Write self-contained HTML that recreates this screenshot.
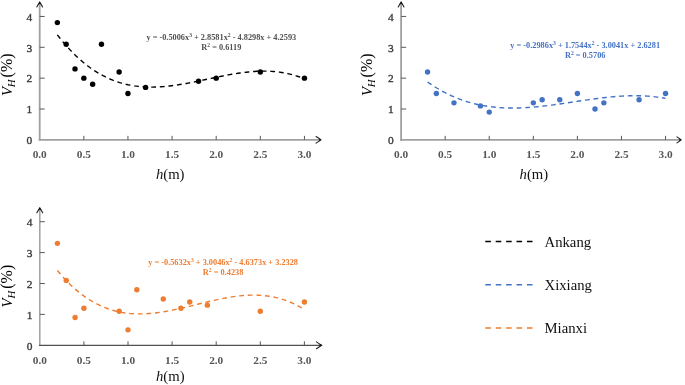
<!DOCTYPE html>
<html><head><meta charset="utf-8"><style>
html,body{margin:0;padding:0;background:#fff;}
body{width:685px;height:385px;overflow:hidden;}
svg{display:block;filter:blur(0.35px);}
text{font-family:"Liberation Serif",serif;}
.tk{font-size:11.3px;font-weight:bold;fill:#555;}
.tky{font-size:11.4px;fill:#3a3a3a;stroke:#3a3a3a;stroke-width:0.35px;}
.eq{font-size:8.3px;font-weight:bold;}
.sup{font-size:5.6px;}
.al{font-size:15px;fill:#111;}
.lg{font-size:15px;fill:#111;}
</style></head><body>
<svg width="685" height="385" viewBox="0 0 685 385">
<line x1="39.70" y1="2.50" x2="39.70" y2="140.75" stroke="#a0a0a0" stroke-width="1.8"/>
<line x1="38.80" y1="139.85" x2="320.95" y2="139.85" stroke="#a0a0a0" stroke-width="1.8"/>
<path d="M36.80 7.00 Q38.50 3.90 39.70 2.10 Q40.90 3.90 42.60 7.00" fill="none" stroke="#222" stroke-width="1.1" stroke-linecap="round"/>
<path d="M39.70 1.80 L38.20 4.50 L39.70 3.70 L41.20 4.50 Z" fill="#111"/>
<path d="M316.05 136.55 Q319.15 138.55 320.95 139.85 Q319.15 141.15 316.05 143.15" fill="none" stroke="#222" stroke-width="1.1" stroke-linecap="round"/>
<path d="M321.25 139.85 L318.55 138.35 L319.35 139.85 L318.55 141.35 Z" fill="#111"/>
<text x="29.40" y="144.05" text-anchor="middle" class="tky">0</text>
<line x1="39.70" y1="109.00" x2="44.70" y2="109.00" stroke="#595959" stroke-width="1"/>
<text x="29.40" y="113.20" text-anchor="middle" class="tky">1</text>
<line x1="39.70" y1="78.15" x2="44.70" y2="78.15" stroke="#595959" stroke-width="1"/>
<text x="29.40" y="82.35" text-anchor="middle" class="tky">2</text>
<line x1="39.70" y1="47.30" x2="44.70" y2="47.30" stroke="#595959" stroke-width="1"/>
<text x="29.40" y="51.50" text-anchor="middle" class="tky">3</text>
<line x1="39.70" y1="16.45" x2="44.70" y2="16.45" stroke="#595959" stroke-width="1"/>
<text x="29.40" y="20.65" text-anchor="middle" class="tky">4</text>
<text x="39.70" y="157.95" text-anchor="middle" class="tk">0.0</text>
<line x1="83.83" y1="139.85" x2="83.83" y2="135.85" stroke="#595959" stroke-width="1"/>
<text x="83.83" y="157.95" text-anchor="middle" class="tk">0.5</text>
<line x1="127.95" y1="139.85" x2="127.95" y2="135.85" stroke="#595959" stroke-width="1"/>
<text x="127.95" y="157.95" text-anchor="middle" class="tk">1.0</text>
<line x1="172.07" y1="139.85" x2="172.07" y2="135.85" stroke="#595959" stroke-width="1"/>
<text x="172.07" y="157.95" text-anchor="middle" class="tk">1.5</text>
<line x1="216.20" y1="139.85" x2="216.20" y2="135.85" stroke="#595959" stroke-width="1"/>
<text x="216.20" y="157.95" text-anchor="middle" class="tk">2.0</text>
<line x1="260.32" y1="139.85" x2="260.32" y2="135.85" stroke="#595959" stroke-width="1"/>
<text x="260.32" y="157.95" text-anchor="middle" class="tk">2.5</text>
<line x1="304.45" y1="139.85" x2="304.45" y2="135.85" stroke="#595959" stroke-width="1"/>
<text x="304.45" y="157.95" text-anchor="middle" class="tk">3.0</text>
<path d="M57.35 34.85 L59.43 37.52 L61.50 40.11 L63.58 42.62 L65.66 45.04 L67.73 47.38 L69.81 49.64 L71.89 51.81 L73.96 53.91 L76.04 55.93 L78.11 57.88 L80.19 59.74 L82.27 61.54 L84.34 63.26 L86.42 64.91 L88.50 66.49 L90.57 68.00 L92.65 69.44 L94.73 70.82 L96.80 72.13 L98.88 73.37 L100.96 74.56 L103.03 75.68 L105.11 76.74 L107.19 77.74 L109.26 78.68 L111.34 79.56 L113.41 80.39 L115.49 81.16 L117.57 81.88 L119.64 82.55 L121.72 83.17 L123.80 83.73 L125.87 84.25 L127.95 84.72 L130.03 85.14 L132.10 85.52 L134.18 85.86 L136.26 86.15 L138.33 86.40 L140.41 86.61 L142.49 86.78 L144.56 86.92 L146.64 87.01 L148.71 87.07 L150.79 87.10 L152.87 87.09 L154.94 87.06 L157.02 86.99 L159.10 86.89 L161.17 86.76 L163.25 86.61 L165.33 86.43 L167.40 86.23 L169.48 86.00 L171.56 85.75 L173.63 85.48 L175.71 85.19 L177.79 84.88 L179.86 84.55 L181.94 84.21 L184.01 83.85 L186.09 83.48 L188.17 83.10 L190.24 82.71 L192.32 82.30 L194.40 81.89 L196.47 81.47 L198.55 81.04 L200.63 80.60 L202.70 80.17 L204.78 79.73 L206.86 79.28 L208.93 78.84 L211.01 78.40 L213.09 77.96 L215.16 77.52 L217.24 77.09 L219.31 76.67 L221.39 76.25 L223.47 75.83 L225.54 75.43 L227.62 75.04 L229.70 74.66 L231.77 74.29 L233.85 73.94 L235.93 73.60 L238.00 73.28 L240.08 72.97 L242.16 72.69 L244.23 72.42 L246.31 72.18 L248.39 71.96 L250.46 71.76 L252.54 71.58 L254.61 71.44 L256.69 71.32 L258.77 71.23 L260.84 71.16 L262.92 71.13 L265.00 71.13 L267.07 71.17 L269.15 71.24 L271.23 71.34 L273.30 71.49 L275.38 71.67 L277.46 71.89 L279.53 72.15 L281.61 72.45 L283.69 72.79 L285.76 73.18 L287.84 73.62 L289.91 74.10 L291.99 74.63 L294.07 75.20 L296.14 75.83 L298.22 76.51 L300.30 77.24 L302.37 78.03 L304.45 78.87" fill="none" stroke="#000000" stroke-width="1.4" stroke-dasharray="4.8 3.8"/>
<circle cx="57.35" cy="22.62" r="2.7" fill="#000000"/>
<circle cx="66.17" cy="44.21" r="2.7" fill="#000000"/>
<circle cx="75.00" cy="68.89" r="2.7" fill="#000000"/>
<circle cx="83.83" cy="78.15" r="2.7" fill="#000000"/>
<circle cx="92.65" cy="84.32" r="2.7" fill="#000000"/>
<circle cx="101.47" cy="44.21" r="2.7" fill="#000000"/>
<circle cx="119.12" cy="71.98" r="2.7" fill="#000000"/>
<circle cx="127.95" cy="93.57" r="2.7" fill="#000000"/>
<circle cx="145.60" cy="87.41" r="2.7" fill="#000000"/>
<circle cx="198.55" cy="81.23" r="2.7" fill="#000000"/>
<circle cx="216.20" cy="78.15" r="2.7" fill="#000000"/>
<circle cx="260.32" cy="71.98" r="2.7" fill="#000000"/>
<circle cx="304.45" cy="78.15" r="2.7" fill="#000000"/>
<text x="221.30" y="39.70" text-anchor="middle" class="eq" fill="#505050">y = -0.5006x<tspan class="sup" dy="-3.0">3</tspan><tspan dy="3.0"> + 2.8581x</tspan><tspan class="sup" dy="-3.0">2</tspan><tspan dy="3.0"> - 4.8298x + 4.2593</tspan></text>
<text x="221.30" y="49.90" text-anchor="middle" class="eq" fill="#505050">R<tspan class="sup" dy="-3.0">2</tspan><tspan dy="3.0"> = 0.6119</tspan></text>
<text transform="translate(11.50 96.10) rotate(-90) scale(0.97,0.97)" class="al" style="font-size:15.2px;fill:#000"><tspan font-style="italic">V</tspan><tspan font-style="italic" font-size="11.2" dy="3.3" dx="-0.1">H</tspan><tspan dy="-3.3" dx="2.0" font-size="16.5">(%)</tspan></text>
<text transform="translate(170.20 179.00) scale(0.95,1)" text-anchor="middle" class="al" style="font-size:15.5px"><tspan font-style="italic">h</tspan>(m)</text>
<line x1="401.10" y1="2.50" x2="401.10" y2="140.75" stroke="#a0a0a0" stroke-width="1.8"/>
<line x1="400.20" y1="139.85" x2="681.15" y2="139.85" stroke="#a0a0a0" stroke-width="1.8"/>
<path d="M398.20 7.00 Q399.90 3.90 401.10 2.10 Q402.30 3.90 404.00 7.00" fill="none" stroke="#222" stroke-width="1.1" stroke-linecap="round"/>
<path d="M401.10 1.80 L399.60 4.50 L401.10 3.70 L402.60 4.50 Z" fill="#111"/>
<path d="M676.95 136.85 Q679.35 138.55 681.15 139.85 Q679.35 141.15 676.95 142.85" fill="none" stroke="#222" stroke-width="1.1" stroke-linecap="round"/>
<path d="M681.45 139.85 L678.75 138.35 L679.55 139.85 L678.75 141.35 Z" fill="#111"/>
<text x="390.80" y="144.05" text-anchor="middle" class="tky">0</text>
<line x1="401.10" y1="109.00" x2="406.10" y2="109.00" stroke="#595959" stroke-width="1"/>
<text x="390.80" y="113.20" text-anchor="middle" class="tky">1</text>
<line x1="401.10" y1="78.15" x2="406.10" y2="78.15" stroke="#595959" stroke-width="1"/>
<text x="390.80" y="82.35" text-anchor="middle" class="tky">2</text>
<line x1="401.10" y1="47.30" x2="406.10" y2="47.30" stroke="#595959" stroke-width="1"/>
<text x="390.80" y="51.50" text-anchor="middle" class="tky">3</text>
<line x1="401.10" y1="16.45" x2="406.10" y2="16.45" stroke="#595959" stroke-width="1"/>
<text x="390.80" y="20.65" text-anchor="middle" class="tky">4</text>
<text x="401.10" y="157.95" text-anchor="middle" class="tk">0.0</text>
<line x1="445.18" y1="139.85" x2="445.18" y2="135.85" stroke="#595959" stroke-width="1"/>
<text x="445.18" y="157.95" text-anchor="middle" class="tk">0.5</text>
<line x1="489.25" y1="139.85" x2="489.25" y2="135.85" stroke="#595959" stroke-width="1"/>
<text x="489.25" y="157.95" text-anchor="middle" class="tk">1.0</text>
<line x1="533.33" y1="139.85" x2="533.33" y2="135.85" stroke="#595959" stroke-width="1"/>
<text x="533.33" y="157.95" text-anchor="middle" class="tk">1.5</text>
<line x1="577.40" y1="139.85" x2="577.40" y2="135.85" stroke="#595959" stroke-width="1"/>
<text x="577.40" y="157.95" text-anchor="middle" class="tk">2.0</text>
<line x1="621.48" y1="139.85" x2="621.48" y2="135.85" stroke="#595959" stroke-width="1"/>
<text x="621.48" y="157.95" text-anchor="middle" class="tk">2.5</text>
<line x1="665.55" y1="139.85" x2="665.55" y2="135.85" stroke="#595959" stroke-width="1"/>
<text x="665.55" y="157.95" text-anchor="middle" class="tk">3.0</text>
<path d="M427.55 81.95 L429.55 83.35 L431.55 84.70 L433.55 86.01 L435.55 87.27 L437.55 88.49 L439.55 89.66 L441.55 90.79 L443.55 91.88 L445.55 92.92 L447.55 93.93 L449.55 94.89 L451.55 95.81 L453.55 96.69 L455.55 97.54 L457.55 98.34 L459.55 99.11 L461.55 99.84 L463.55 100.54 L465.55 101.20 L467.55 101.82 L469.55 102.41 L471.55 102.97 L473.55 103.50 L475.55 103.99 L477.55 104.45 L479.55 104.88 L481.55 105.28 L483.55 105.64 L485.55 105.98 L487.55 106.30 L489.55 106.58 L491.55 106.83 L493.55 107.06 L495.55 107.27 L497.55 107.45 L499.55 107.60 L501.55 107.73 L503.55 107.84 L505.55 107.92 L507.55 107.98 L509.55 108.02 L511.55 108.04 L513.55 108.04 L515.55 108.02 L517.55 107.99 L519.55 107.93 L521.55 107.86 L523.55 107.77 L525.55 107.66 L527.55 107.54 L529.55 107.40 L531.55 107.25 L533.55 107.08 L535.55 106.90 L537.55 106.71 L539.55 106.51 L541.55 106.30 L543.55 106.07 L545.55 105.84 L547.55 105.60 L549.55 105.35 L551.55 105.09 L553.55 104.82 L555.55 104.55 L557.55 104.27 L559.55 103.99 L561.55 103.70 L563.55 103.41 L565.55 103.11 L567.55 102.81 L569.55 102.51 L571.55 102.21 L573.55 101.91 L575.55 101.61 L577.55 101.31 L579.55 101.00 L581.55 100.71 L583.55 100.41 L585.55 100.12 L587.55 99.83 L589.55 99.54 L591.55 99.26 L593.55 98.99 L595.55 98.72 L597.55 98.46 L599.55 98.21 L601.55 97.97 L603.55 97.73 L605.55 97.51 L607.55 97.29 L609.55 97.09 L611.55 96.89 L613.55 96.71 L615.55 96.54 L617.55 96.39 L619.55 96.25 L621.55 96.12 L623.55 96.01 L625.55 95.92 L627.55 95.84 L629.55 95.78 L631.55 95.74 L633.55 95.72 L635.55 95.71 L637.55 95.73 L639.55 95.77 L641.55 95.83 L643.55 95.90 L645.55 96.01 L647.55 96.13 L649.55 96.28 L651.55 96.46 L653.55 96.66 L655.55 96.88 L657.55 97.13 L659.55 97.41 L661.55 97.71 L663.55 98.05 L665.55 98.41" fill="none" stroke="#4472c4" stroke-width="1.4" stroke-dasharray="4.8 3.8"/>
<circle cx="427.55" cy="71.98" r="2.7" fill="#4472c4"/>
<circle cx="436.36" cy="93.57" r="2.7" fill="#4472c4"/>
<circle cx="453.99" cy="102.83" r="2.7" fill="#4472c4"/>
<circle cx="480.44" cy="105.91" r="2.7" fill="#4472c4"/>
<circle cx="489.25" cy="112.08" r="2.7" fill="#4472c4"/>
<circle cx="533.33" cy="102.83" r="2.7" fill="#4472c4"/>
<circle cx="542.14" cy="99.74" r="2.7" fill="#4472c4"/>
<circle cx="559.77" cy="99.74" r="2.7" fill="#4472c4"/>
<circle cx="577.40" cy="93.57" r="2.7" fill="#4472c4"/>
<circle cx="595.03" cy="109.00" r="2.7" fill="#4472c4"/>
<circle cx="603.85" cy="102.83" r="2.7" fill="#4472c4"/>
<circle cx="639.11" cy="99.74" r="2.7" fill="#4472c4"/>
<circle cx="665.55" cy="93.57" r="2.7" fill="#4472c4"/>
<text x="585.20" y="48.00" text-anchor="middle" class="eq" fill="#4472c4">y = -0.2986x<tspan class="sup" dy="-3.0">3</tspan><tspan dy="3.0"> + 1.7544x</tspan><tspan class="sup" dy="-3.0">2</tspan><tspan dy="3.0"> - 3.0041x + 2.6281</tspan></text>
<text x="585.20" y="57.60" text-anchor="middle" class="eq" fill="#4472c4">R<tspan class="sup" dy="-3.0">2</tspan><tspan dy="3.0"> = 0.5706</tspan></text>
<text transform="translate(372.10 96.10) rotate(-90) scale(0.97,0.97)" class="al" style="font-size:15.2px;fill:#000"><tspan font-style="italic">V</tspan><tspan font-style="italic" font-size="11.2" dy="3.3" dx="-0.1">H</tspan><tspan dy="-3.3" dx="2.0" font-size="16.5">(%)</tspan></text>
<text transform="translate(533.90 179.10) scale(0.95,1)" text-anchor="middle" class="al" style="font-size:15.5px"><tspan font-style="italic">h</tspan>(m)</text>
<line x1="39.80" y1="208.30" x2="39.80" y2="345.90" stroke="#a0a0a0" stroke-width="1.5"/>
<line x1="39.05" y1="345.30" x2="321.60" y2="345.30" stroke="#505050" stroke-width="1.2"/>
<path d="M36.90 212.80 Q38.60 209.70 39.80 207.90 Q41.00 209.70 42.70 212.80" fill="none" stroke="#222" stroke-width="1.1" stroke-linecap="round"/>
<path d="M39.80 207.60 L38.30 210.30 L39.80 209.50 L41.30 210.30 Z" fill="#111"/>
<path d="M316.40 341.90 Q319.80 344.00 321.60 345.30 Q319.80 346.60 316.40 348.70" fill="none" stroke="#222" stroke-width="1.1" stroke-linecap="round"/>
<path d="M321.90 345.30 L319.20 343.80 L320.00 345.30 L319.20 346.80 Z" fill="#111"/>
<text x="29.50" y="349.50" text-anchor="middle" class="tky">0</text>
<line x1="39.80" y1="314.40" x2="44.80" y2="314.40" stroke="#595959" stroke-width="1"/>
<text x="29.50" y="318.60" text-anchor="middle" class="tky">1</text>
<line x1="39.80" y1="283.50" x2="44.80" y2="283.50" stroke="#595959" stroke-width="1"/>
<text x="29.50" y="287.70" text-anchor="middle" class="tky">2</text>
<line x1="39.80" y1="252.60" x2="44.80" y2="252.60" stroke="#595959" stroke-width="1"/>
<text x="29.50" y="256.80" text-anchor="middle" class="tky">3</text>
<line x1="39.80" y1="221.70" x2="44.80" y2="221.70" stroke="#595959" stroke-width="1"/>
<text x="29.50" y="225.90" text-anchor="middle" class="tky">4</text>
<text x="39.80" y="363.90" text-anchor="middle" class="tk">0.0</text>
<line x1="83.90" y1="345.30" x2="83.90" y2="341.30" stroke="#595959" stroke-width="1"/>
<text x="83.90" y="363.90" text-anchor="middle" class="tk">0.5</text>
<line x1="128.00" y1="345.30" x2="128.00" y2="341.30" stroke="#595959" stroke-width="1"/>
<text x="128.00" y="363.90" text-anchor="middle" class="tk">1.0</text>
<line x1="172.10" y1="345.30" x2="172.10" y2="341.30" stroke="#595959" stroke-width="1"/>
<text x="172.10" y="363.90" text-anchor="middle" class="tk">1.5</text>
<line x1="216.20" y1="345.30" x2="216.20" y2="341.30" stroke="#595959" stroke-width="1"/>
<text x="216.20" y="363.90" text-anchor="middle" class="tk">2.0</text>
<line x1="260.30" y1="345.30" x2="260.30" y2="341.30" stroke="#595959" stroke-width="1"/>
<text x="260.30" y="363.90" text-anchor="middle" class="tk">2.5</text>
<line x1="304.40" y1="345.30" x2="304.40" y2="341.30" stroke="#595959" stroke-width="1"/>
<text x="304.40" y="363.90" text-anchor="middle" class="tk">3.0</text>
<path d="M57.44 270.49 L59.52 272.99 L61.59 275.40 L63.67 277.73 L65.74 279.96 L67.82 282.11 L69.89 284.18 L71.97 286.16 L74.04 288.06 L76.12 289.88 L78.19 291.62 L80.27 293.29 L82.34 294.88 L84.42 296.39 L86.49 297.83 L88.57 299.20 L90.64 300.49 L92.72 301.72 L94.80 302.88 L96.87 303.97 L98.95 304.99 L101.02 305.96 L103.10 306.86 L105.17 307.70 L107.25 308.47 L109.32 309.19 L111.40 309.86 L113.47 310.46 L115.55 311.02 L117.62 311.51 L119.70 311.96 L121.77 312.36 L123.85 312.71 L125.92 313.01 L128.00 313.26 L130.08 313.47 L132.15 313.63 L134.23 313.76 L136.30 313.84 L138.38 313.88 L140.45 313.88 L142.53 313.85 L144.60 313.78 L146.68 313.68 L148.75 313.55 L150.83 313.38 L152.90 313.18 L154.98 312.96 L157.05 312.71 L159.13 312.43 L161.20 312.13 L163.28 311.80 L165.36 311.45 L167.43 311.08 L169.51 310.69 L171.58 310.29 L173.66 309.87 L175.73 309.43 L177.81 308.98 L179.88 308.52 L181.96 308.04 L184.03 307.56 L186.11 307.07 L188.18 306.57 L190.26 306.06 L192.33 305.56 L194.41 305.04 L196.48 304.53 L198.56 304.02 L200.64 303.51 L202.71 303.00 L204.79 302.49 L206.86 301.99 L208.94 301.50 L211.01 301.01 L213.09 300.54 L215.16 300.07 L217.24 299.62 L219.31 299.18 L221.39 298.76 L223.46 298.35 L225.54 297.96 L227.61 297.59 L229.69 297.24 L231.76 296.91 L233.84 296.60 L235.92 296.32 L237.99 296.06 L240.07 295.83 L242.14 295.63 L244.22 295.46 L246.29 295.32 L248.37 295.21 L250.44 295.14 L252.52 295.10 L254.59 295.10 L256.67 295.14 L258.74 295.21 L260.82 295.33 L262.89 295.49 L264.97 295.69 L267.04 295.93 L269.12 296.23 L271.20 296.57 L273.27 296.96 L275.35 297.40 L277.42 297.89 L279.50 298.43 L281.57 299.03 L283.65 299.68 L285.72 300.39 L287.80 301.16 L289.87 301.99 L291.95 302.88 L294.02 303.84 L296.10 304.85 L298.17 305.93 L300.25 307.08 L302.32 308.30 L304.40 309.58" fill="none" stroke="#ed7d31" stroke-width="1.4" stroke-dasharray="4.8 3.8"/>
<circle cx="57.44" cy="243.33" r="2.7" fill="#ed7d31"/>
<circle cx="66.26" cy="280.41" r="2.7" fill="#ed7d31"/>
<circle cx="75.08" cy="317.49" r="2.7" fill="#ed7d31"/>
<circle cx="83.90" cy="308.22" r="2.7" fill="#ed7d31"/>
<circle cx="119.18" cy="311.31" r="2.7" fill="#ed7d31"/>
<circle cx="128.00" cy="329.85" r="2.7" fill="#ed7d31"/>
<circle cx="136.82" cy="289.68" r="2.7" fill="#ed7d31"/>
<circle cx="163.28" cy="298.95" r="2.7" fill="#ed7d31"/>
<circle cx="180.92" cy="308.22" r="2.7" fill="#ed7d31"/>
<circle cx="189.74" cy="302.04" r="2.7" fill="#ed7d31"/>
<circle cx="207.38" cy="305.13" r="2.7" fill="#ed7d31"/>
<circle cx="260.30" cy="311.31" r="2.7" fill="#ed7d31"/>
<circle cx="304.40" cy="302.04" r="2.7" fill="#ed7d31"/>
<text x="223.10" y="264.60" text-anchor="middle" class="eq" fill="#ed7d31">y = -0.5632x<tspan class="sup" dy="-3.0">3</tspan><tspan dy="3.0"> + 3.0046x</tspan><tspan class="sup" dy="-3.0">2</tspan><tspan dy="3.0"> - 4.6373x + 3.2328</tspan></text>
<text x="223.10" y="274.50" text-anchor="middle" class="eq" fill="#ed7d31">R<tspan class="sup" dy="-3.0">2</tspan><tspan dy="3.0"> = 0.4238</tspan></text>
<text transform="translate(11.50 307.40) rotate(-90) scale(0.97,0.97)" class="al" style="font-size:15.2px;fill:#000"><tspan font-style="italic">V</tspan><tspan font-style="italic" font-size="11.2" dy="3.3" dx="-0.1">H</tspan><tspan dy="-3.3" dx="2.0" font-size="16.5">(%)</tspan></text>
<text transform="translate(170.30 380.60) scale(0.95,1)" text-anchor="middle" class="al" style="font-size:15.5px"><tspan font-style="italic">h</tspan>(m)</text>
<line x1="485.3" y1="241.5" x2="532.8" y2="241.5" stroke="#000000" stroke-width="1.5" stroke-dasharray="5.6 4.8"/>
<text transform="translate(544.5 246.7) scale(0.95,1)" class="lg" style="font-size:15.5px">Ankang</text>
<line x1="485.3" y1="284.8" x2="532.8" y2="284.8" stroke="#4472c4" stroke-width="1.5" stroke-dasharray="5.6 4.8"/>
<text transform="translate(544.5 290.0) scale(0.95,1)" class="lg" style="font-size:15.5px">Xixiang</text>
<line x1="485.3" y1="328.0" x2="532.8" y2="328.0" stroke="#ed7d31" stroke-width="1.5" stroke-dasharray="5.6 4.8"/>
<text transform="translate(544.5 333.2) scale(0.95,1)" class="lg" style="font-size:15.5px">Mianxi</text>
</svg>
</body></html>
